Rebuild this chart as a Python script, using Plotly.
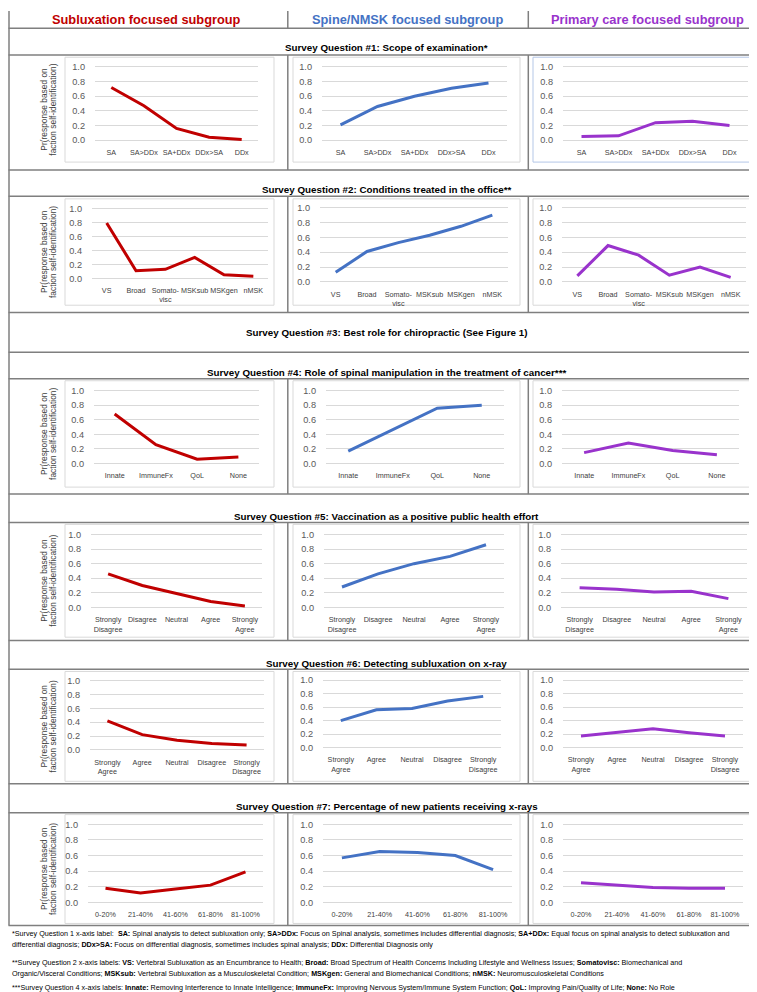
import plotly.graph_objects as go

W, H = 757, 992
FONT = "Liberation Sans, Arial, sans-serif"

# ---------------- data ----------------
groups = ["Subluxation focused subgroup", "Spine/NMSK focused subgroup", "Primary care focused subgroup"]
group_colors = ["#C00000", "#4472C4", "#9933CC"]

q1_title = "Survey Question #1: Scope of examination*"
q1_labels = ["SA", "SA>DDx", "SA+DDx", "DDx>SA", "DDx"]
q1_subluxation = [0.72, 0.47, 0.16, 0.04, 0.01]
q1_spine = [0.21, 0.46, 0.60, 0.71, 0.78]
q1_primary = [0.05, 0.06, 0.24, 0.26, 0.20]

q2_title = "Survey Question #2: Conditions treated in the office**"
q2_labels = ["VS", "Broad", "Somato-<br>visc", "MSKsub", "MSKgen", "nMSK"]
q2_subluxation = [0.79, 0.11, 0.13, 0.30, 0.05, 0.03]
q2_spine = [0.13, 0.41, 0.53, 0.63, 0.75, 0.90]
q2_primary = [0.08, 0.49, 0.36, 0.09, 0.20, 0.06]

q3_title = "Survey Question #3: Best role for chiropractic (See Figure 1)"

q4_title = "Survey Question #4: Role of spinal manipulation in the treatment of cancer***"
q4_labels = ["Innate", "ImmuneFx", "QoL", "None"]
q4_subluxation = [0.68, 0.26, 0.06, 0.09]
q4_spine = [0.17, 0.47, 0.76, 0.80]
q4_primary = [0.15, 0.28, 0.18, 0.12]

q5_title = "Survey Question #5: Vaccination as a positive public health effort"
q5_labels = ["Strongly<br>Disagree", "Disagree", "Neutral", "Agree", "Strongly<br>Agree"]
q5_subluxation = [0.46, 0.30, 0.19, 0.08, 0.02]
q5_spine = [0.28, 0.46, 0.60, 0.70, 0.86]
q5_primary = [0.27, 0.25, 0.21, 0.22, 0.12]

q6_title = "Survey Question #6: Detecting subluxation on x-ray"
q6_labels = ["Strongly<br>Agree", "Agree", "Neutral", "Disagree", "Strongly<br>Disagree"]
q6_subluxation = [0.42, 0.22, 0.14, 0.09, 0.07]
q6_spine = [0.40, 0.56, 0.58, 0.69, 0.76]
q6_primary = [0.17, 0.22, 0.28, 0.22, 0.17]

q7_title = "Survey Question #7: Percentage of new patients receiving x-rays"
q7_labels = ["0-20%", "21-40%", "41-60%", "61-80%", "81-100%"]
q7_subluxation = [0.18, 0.12, 0.17, 0.22, 0.39]
q7_spine = [0.57, 0.65, 0.64, 0.60, 0.42]
q7_primary = [0.25, 0.22, 0.19, 0.18, 0.18]

y_ticks = [0.0, 0.2, 0.4, 0.6, 0.8, 1.0]
y_ticktext = ["0.0", "0.2", "0.4", "0.6", "0.8", "1.0"]
ylabel_lines = ["Pr(response based on", "faction self-identification)"]

footnotes = [
    "*Survey Question 1 x-axis label:  <b>SA:</b> Spinal analysis to detect subluxation only; <b>SA&gt;DDx:</b> Focus on Spinal analysis, sometimes includes differential diagnosis; <b>SA+DDx:</b> Equal focus on spinal analysis to detect subluxation and",
    "differential diagnosis; <b>DDx&gt;SA:</b> Focus on differential diagnosis, sometimes includes spinal analysis; <b>DDx:</b> Differential Diagnosis only",
    "**Survey Question 2 x-axis labels: <b>VS:</b> Vertebral Subluxation as an Encumbrance to Health; <b>Broad:</b> Broad Spectrum of Health Concerns Including Lifestyle and Wellness Issues; <b>Somatovisc:</b> Biomechanical and",
    "Organic/Visceral Conditions; <b>MSKsub:</b> Vertebral Subluxation as a Musculoskeletal Condition; <b>MSKgen:</b> General and Biomechanical Conditions; <b>nMSK:</b> Neuromusculoskeletal Conditions",
    "***Survey Question 4 x-axis labels: <b>Innate:</b> Removing Interference to Innate Intelligence; <b>ImmuneFx:</b> Improving Nervous System/Immune System Function; <b>QoL:</b> Improving Pain/Quality of Life; <b>None:</b> No Role",
]

# ---------------- layout geometry (pixels) ----------------
chart_rows = [
    dict(title=q1_title, title_y=36.7, top=44.3, bottom=160.0, box=(46.5, 152.0),
         labels=q1_labels, vals=[q1_subluxation, q1_spine, q1_primary],
         xr=[(87, 250), (314, 499), (555, 740)],
         yr=[(56.3, 130.0), (56.3, 130.0), (56.3, 130.0)]),
    dict(title=q2_title, title_y=180.0, top=186.5, bottom=303.3, box=(189.0, 296.0),
         labels=q2_labels, vals=[q2_subluxation, q2_spine, q2_primary],
         xr=[(84, 260), (312, 500), (554, 738)],
         yr=[(198.5, 269.0), (198.0, 272.5), (198.0, 272.5)]),
    dict(title=q4_title, title_y=364.0, top=370.0, bottom=486.0, box=(372.0, 479.0),
         labels=q4_labels, vals=[q4_subluxation, q4_spine, q4_primary],
         xr=[(86, 251), (318, 496), (554, 731)],
         yr=[(382.0, 455.3), (382.0, 455.3), (382.0, 455.3)]),
    dict(title=q5_title, title_y=508.3, top=514.5, bottom=633.3, box=(516.5, 630.0),
         labels=q5_labels, vals=[q5_subluxation, q5_spine, q5_primary],
         xr=[(83, 254), (316, 496), (553, 739)],
         yr=[(526.7, 600.0), (526.7, 600.0), (526.7, 600.0)]),
    dict(title=q6_title, title_y=656.0, top=662.3, bottom=777.5, box=(664.5, 775.0),
         labels=q6_labels, vals=[q6_subluxation, q6_spine, q6_primary],
         xr=[(82, 256), (315, 493), (555, 735)],
         yr=[(674.0, 743.3), (673.3, 741.0), (673.3, 741.0)]),
    dict(title=q7_title, title_y=800.7, top=806.7, bottom=920.0, box=(808.5, 918.0),
         labels=q7_labels, vals=[q7_subluxation, q7_spine, q7_primary],
         xr=[(80, 255), (315, 504), (555, 735)],
         yr=[(818.3, 896.7), (818.3, 896.7), (818.3, 896.7)]),
]
col_boxes = [(57, 266), (285, 512), (525, 752)]
col_div = [279.8, 520.3]
header_line = 17.3
header_y = 9.0
header_x = [138.5, 399.5, 639.0]
q3_row = (303.3, 343.3)
h_lines = [17.3, 44.3, 160.0, 186.5, 303.3, 343.3, 370.0, 486.0, 514.5, 633.3,
           662.3, 777.5, 806.7, 920.0]
footnote_y = [928.0, 939.5, 957.5, 968.5, 982.5]


def px(x):
    return x / W


def py(y):
    return 1 - y / H


fig = go.Figure()
shapes = []
annotations = []
layout_axes = {}
LINE_C = "#7F7F7F"

# table lines
for y in h_lines:
    shapes.append(dict(type="line", xref="paper", yref="paper", x0=px(0.5), x1=px(756.5),
                       y0=py(y), y1=py(y), line=dict(color=LINE_C, width=1.5), layer="above"))
for x in [1.0, 756.0]:
    shapes.append(dict(type="line", xref="paper", yref="paper", x0=px(x), x1=px(x),
                       y0=py(0), y1=py(920.0), line=dict(color=LINE_C, width=1.5), layer="above"))
for x in col_div:
    shapes.append(dict(type="line", xref="paper", yref="paper", x0=px(x), x1=px(x),
                       y0=py(0), y1=py(header_line), line=dict(color=LINE_C, width=1.5), layer="above"))
    for r in chart_rows:
        shapes.append(dict(type="line", xref="paper", yref="paper", x0=px(x), x1=px(x),
                           y0=py(r["top"]), y1=py(r["bottom"]), line=dict(color=LINE_C, width=1.5),
                           layer="above"))

# headers
for g, c, hx in zip(groups, group_colors, header_x):
    annotations.append(dict(text="<b>%s</b>" % g, x=px(hx), y=py(header_y), xref="paper", yref="paper",
                            xanchor="center", yanchor="middle", showarrow=False,
                            font=dict(family=FONT, size=12.8, color=c)))

# Q3 row
annotations.append(dict(text="<b>%s</b>" % q3_title, x=px(378.5), y=py(sum(q3_row) / 2), xref="paper",
                        yref="paper", xanchor="center", yanchor="middle", showarrow=False,
                        font=dict(family=FONT, size=9.8, color="black")))

ai = 0
PAD = 0.03
for r in chart_rows:
    annotations.append(dict(text="<b>%s</b>" % r["title"], x=px(378.5), y=py(r["title_y"]), xref="paper",
                            yref="paper", xanchor="center", yanchor="middle", showarrow=False,
                            font=dict(family=FONT, size=9.8, color="black")))
    b0, b1 = r["box"]
    for c in range(3):
        bx0, bx1 = col_boxes[c]
        bcol = "#B4C7E7" if (r is chart_rows[0] and c == 2) else "#D9D9D9"
        shapes.append(dict(type="rect", xref="paper", yref="paper", x0=px(bx0), x1=px(bx1),
                           y0=py(b1), y1=py(b0), line=dict(color=bcol, width=1), layer="below"))
        ai += 1
        xa = "x" if ai == 1 else "x%d" % ai
        ya = "y" if ai == 1 else "y%d" % ai
        n = len(r["labels"])
        fig.add_trace(go.Scatter(x=list(range(n)), y=r["vals"][c], mode="lines",
                                 line=dict(color=group_colors[c], width=3),
                                 xaxis=xa, yaxis=ya, showlegend=False, hoverinfo="skip"))
        x0p, x1p = r["xr"][c]
        y1p, y0p = r["yr"][c]
        ppu = y0p - y1p
        dom_top = y1p - PAD * ppu
        dom_bot = y0p + PAD * ppu
        key = "" if ai == 1 else str(ai)
        layout_axes["xaxis" + key] = dict(
            domain=[px(x0p), px(x1p)], range=[-0.5, n - 0.5], anchor=ya,
            tickvals=list(range(n)), ticktext=r["labels"], showgrid=False, zeroline=False,
            showline=False, ticks="outside", ticklen=3, tickcolor="rgba(0,0,0,0)", tickangle=0,
            tickfont=dict(family=FONT, size=7.2, color="#404040"), fixedrange=True)
        layout_axes["yaxis" + key] = dict(
            domain=[py(dom_bot), py(dom_top)], range=[-PAD, 1 + PAD], anchor=xa,
            tickvals=y_ticks, ticktext=y_ticktext, showgrid=True, gridcolor="#D9D9D9",
            gridwidth=1, zeroline=False, showline=False, ticklabelstandoff=9,
            tickfont=dict(family=FONT, size=9.2, color="#595959"), fixedrange=True)
    # y label for left column
    yc = (b0 + b1) / 2
    for lx, ltxt in zip([36.0, 45.0], ylabel_lines):
        annotations.append(dict(text=ltxt, x=px(lx), y=py(yc), xref="paper", yref="paper",
                                xanchor="center", yanchor="middle", textangle=-90, showarrow=False,
                                font=dict(family=FONT, size=8.4, color="#404040")))

# footnotes
for t, fy in zip(footnotes, footnote_y):
    annotations.append(dict(text=t, x=px(2), y=py(fy), xref="paper", yref="paper",
                            xanchor="left", yanchor="middle", showarrow=False,
                            font=dict(family=FONT, size=7.2, color="black")))

fig.update_layout(
    width=W, height=H, margin=dict(l=0, r=0, t=0, b=0),
    paper_bgcolor="white", plot_bgcolor="rgba(0,0,0,0)",
    shapes=shapes, annotations=annotations, showlegend=False,
    **layout_axes)

fig.write_html("out.html")
